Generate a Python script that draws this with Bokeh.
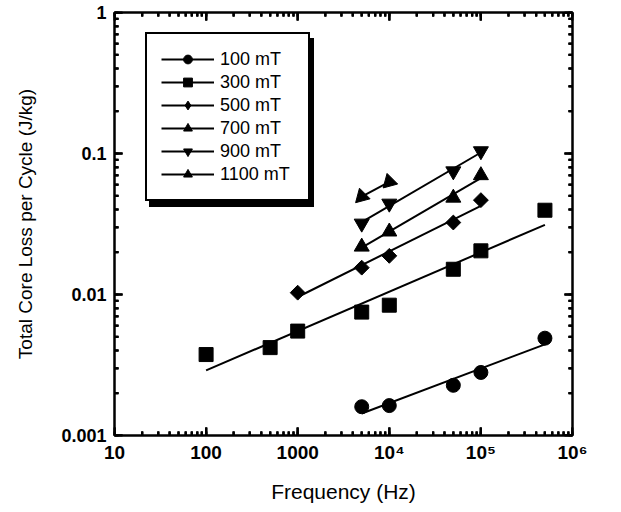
import numpy as np
from bokeh.plotting import figure
from bokeh.models import Legend, LegendItem, LogAxis, LogTicker, Range1d
from bokeh.embed import file_html
from bokeh.resources import INLINE

# ---- data ----
freq_100 = [5e3, 1e4, 5e4, 1e5, 5e5]
loss_100 = [0.0016, 0.00163, 0.00227, 0.0028, 0.0049]
freq_300 = [100, 500, 1000, 5e3, 1e4, 5e4, 1e5, 5e5]
loss_300 = [0.00375, 0.0042, 0.0055, 0.0075, 0.0084, 0.0151, 0.0204, 0.0396]
freq_500 = [1000, 5e3, 1e4, 5e4, 1e5]
loss_500 = [0.0103, 0.0155, 0.0188, 0.0324, 0.0467]
freq_700 = [5e3, 1e4, 5e4, 1e5]
loss_700 = [0.0218, 0.0279, 0.0485, 0.070]
freq_900 = [5e3, 1e4, 5e4, 1e5]
loss_900 = [0.0319, 0.0442, 0.0749, 0.104]
freq_1100 = [5e3, 1e4]
loss_1100 = [0.0495, 0.063]

series_labels = ["100 mT", "300 mT", "500 mT", "700 mT", "900 mT", "1100 mT"]
x_major = [10, 100, 1000, 10000, 100000, 1000000]
x_tick_text = ["10", "100", "1000", "10\u2074", "10\u2075", "10\u2076"]
y_major = [0.001, 0.01, 0.1, 1]
y_tick_text = ["0.001", "0.01", "0.1", "1"]
minor_mult = [2, 3, 4, 5, 6, 7, 8, 9]

FONT = "Liberation Sans"
X0, X1 = x_major[0], x_major[-1]
Y0, Y1 = y_major[0], y_major[-1]
FW, FH = 458, 423
MAJ, MIN, TW = 8, 4, 2

p = figure(x_axis_type="log", y_axis_type="log",
           x_range=Range1d(X0, X1), y_range=Range1d(Y0, Y1),
           frame_width=FW, frame_height=FH,
           min_border_left=114, min_border_top=12, min_border_right=30, min_border_bottom=68,
           output_backend="svg", toolbar_location=None)
p.background_fill_color = "white"
p.border_fill_color = "white"
p.outline_line_color = "black"
p.outline_line_width = 2
p.xgrid.visible = False
p.ygrid.visible = False


def style_axis(ax, size="18px", labels=True):
    ax.axis_line_width = 2
    ax.axis_line_color = "black"
    ax.major_tick_in = MAJ
    ax.major_tick_out = 0
    ax.minor_tick_in = MIN
    ax.minor_tick_out = 0
    ax.major_tick_line_width = TW
    ax.minor_tick_line_width = TW
    ax.major_tick_line_color = "black"
    ax.minor_tick_line_color = "black"
    ax.major_label_text_font = FONT
    ax.major_label_text_font_style = "bold"
    ax.major_label_text_font_size = size
    ax.major_label_text_color = "black"
    if not labels:
        ax.major_label_text_font_size = "0px"
        ax.major_label_text_alpha = 0


xt = LogTicker(desired_num_ticks=6, num_minor_ticks=10)
yt = LogTicker(desired_num_ticks=4, num_minor_ticks=10)

p.xaxis.ticker = xt
p.yaxis.ticker = yt
style_axis(p.xaxis[0], "19px")
style_axis(p.yaxis[0], "18px")
p.xaxis.major_label_overrides = dict(zip(x_major, x_tick_text))
p.yaxis.major_label_overrides = dict(zip(y_major, y_tick_text))
p.xaxis.major_label_standoff = 6
p.yaxis.major_label_standoff = 8

p.xaxis.axis_label = "Frequency (Hz)"
p.yaxis.axis_label = "Total Core Loss per Cycle (J/kg)"
p.xaxis.axis_label_text_font_size = "21px"
p.yaxis.axis_label_text_font_size = "19px"
for ax in (p.xaxis[0], p.yaxis[0]):
    ax.axis_label_text_font = FONT
    ax.axis_label_text_font_style = "normal"
    ax.axis_label_text_color = "black"
p.xaxis.axis_label_standoff = 14
p.yaxis.axis_label_standoff = 22

top_ax = LogAxis(ticker=xt)
right_ax = LogAxis(ticker=yt)
style_axis(top_ax, labels=False)
style_axis(right_ax, labels=False)
top_ax.major_label_standoff = 0
right_ax.major_label_standoff = 0
p.add_layout(top_ax, "above")
p.add_layout(right_ax, "right")

# inward ticks: short segments from each frame edge, plus dash markers
# centred half a tick inside the edge (both coincide with the axis ticks)
x_minor = [m * t for t in x_major[:-1] for m in minor_mult]
y_minor = [m * t for t in y_major[:-1] for m in minor_mult]
for xs, ln in ((x_major, MAJ), (x_minor, MIN)):
    ky = (Y1 / Y0) ** (ln / FH)
    kh = (Y1 / Y0) ** (ln / 2.0 / FH)
    n = len(xs)
    p.segment(x0=xs, y0=[Y0] * n, x1=xs, y1=[Y0 * ky] * n,
              line_color="black", line_width=TW)
    p.segment(x0=xs, y0=[Y1] * n, x1=xs, y1=[Y1 / ky] * n,
              line_color="black", line_width=TW)
    p.scatter(xs, [Y0 * kh] * n, marker="dash", size=ln, angle=np.pi / 2,
              line_color="black", line_width=TW)
    p.scatter(xs, [Y1 / kh] * n, marker="dash", size=ln, angle=np.pi / 2,
              line_color="black", line_width=TW)
for ys, ln in ((y_major, MAJ), (y_minor, MIN)):
    kx = (X1 / X0) ** (ln / FW)
    kh = (X1 / X0) ** (ln / 2.0 / FW)
    n = len(ys)
    p.segment(x0=[X0] * n, y0=ys, x1=[X0 * kx] * n, y1=ys,
              line_color="black", line_width=TW)
    p.segment(x0=[X1] * n, y0=ys, x1=[X1 / kx] * n, y1=ys,
              line_color="black", line_width=TW)
    p.scatter([X0 * kh] * n, ys, marker="dash", size=ln,
              line_color="black", line_width=TW)
    p.scatter([X1 / kh] * n, ys, marker="dash", size=ln,
              line_color="black", line_width=TW)


def fit_line(fx, fy):
    if len(fx) > 2:
        k, b = np.polyfit(np.log10(fx), np.log10(fy), 1)
        xs = [min(fx), max(fx)]
        ys = [10 ** (k * np.log10(v) + b) for v in xs]
        return xs, ys
    return list(fx), list(fy)


# (x, y, plot marker, size, angle, legend marker, legend size)
all_series = [
    (freq_100, loss_100, "circle", 14, 0.0, None, None),
    (freq_300, loss_300, "square", 14, 0.0, None, None),
    (freq_500, loss_500, "square", 10.5, np.pi / 4, "diamond", 18),
    (freq_700, loss_700, "triangle", 15, 0.0, None, None),
    (freq_900, loss_900, "inverted_triangle", 15, 0.0, None, None),
    (freq_1100, loss_1100, "triangle", 15, 3 * np.pi / 4, None, None),
]

items = []
shadow_items = []
for (fx, fy, mk, sz, ang, lmk, lsz), lab in zip(all_series, series_labels):
    lx, ly = fit_line(fx, fy)
    lr = p.line(lx, ly, line_color="black", line_width=2)
    sr = p.scatter(fx, fy, marker=mk, size=sz, angle=ang,
                   fill_color="black", line_color="black")
    rends = [lr, sr]
    if lmk is not None:
        lg_only = p.scatter(fx, fy, marker=lmk, size=lsz,
                            fill_color="black", line_color="black", visible=False)
        rends = [lr, lg_only]
    items.append(LegendItem(label=lab, renderers=rends))
    ghost = p.line(lx, ly, line_alpha=0)
    shadow_items.append(LegendItem(label=" ", renderers=[ghost]))


def style_legend(lg):
    lg.label_text_font = FONT
    lg.label_text_font_size = "18px"
    lg.label_text_color = "black"
    lg.glyph_width = 53
    lg.glyph_height = 22
    lg.label_height = 22
    lg.label_width = 74
    lg.spacing = 1
    lg.padding = 14
    lg.label_standoff = 6
    lg.border_line_color = "black"
    lg.border_line_alpha = 1
    lg.border_line_width = 2
    lg.background_fill_alpha = 1
    lg.margin = 0


shadow = Legend(items=shadow_items, location=(35, 228))
style_legend(shadow)
shadow.background_fill_color = "black"
shadow.label_text_alpha = 0
p.add_layout(shadow, "center")

legend = Legend(items=items, location=(31, 234))
style_legend(legend)
legend.background_fill_color = "white"
p.add_layout(legend, "center")

open("out.html", "w").write(file_html(p, INLINE))
